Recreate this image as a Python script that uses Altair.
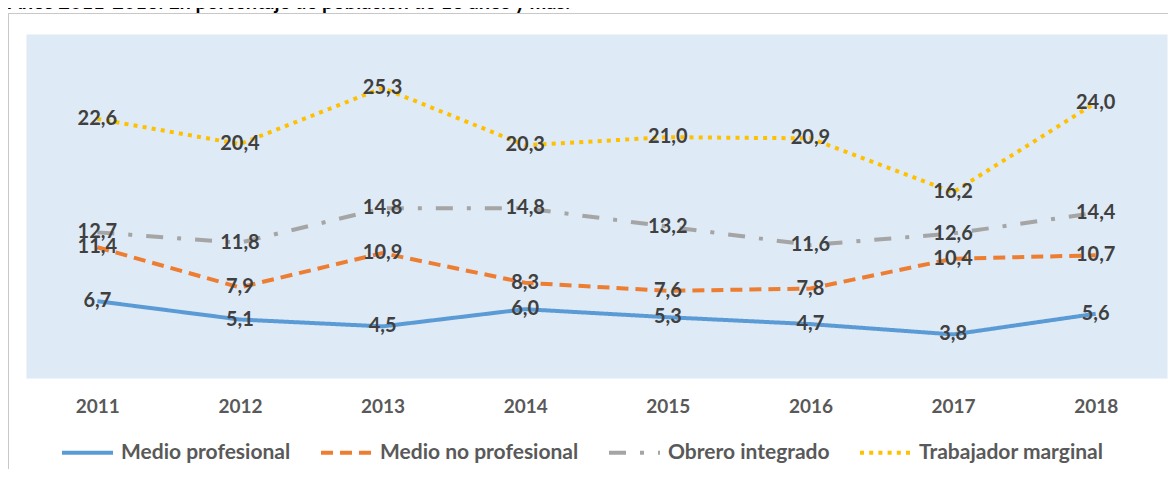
import altair as alt
import pandas as pd

years = ["2011", "2012", "2013", "2014", "2015", "2016", "2017", "2018"]
series_names = ["Medio profesional", "Medio no profesional", "Obrero integrado", "Trabajador marginal"]
medio_profesional = [6.7, 5.1, 4.5, 6.0, 5.3, 4.7, 3.8, 5.6]
medio_no_profesional = [11.4, 7.9, 10.9, 8.3, 7.6, 7.8, 10.4, 10.7]
obrero_integrado = [12.7, 11.8, 14.8, 14.8, 13.2, 11.6, 12.6, 14.4]
trabajador_marginal = [22.6, 20.4, 25.3, 20.3, 21.0, 20.9, 16.2, 24.0]
title_text = "Años 2011-2018. En porcentaje de población de 18 años y más."

colors = ["#5B9BD5", "#ED7D31", "#A5A5A5", "#FFC000"]
dashes = [[1, 0], [12, 7], [17, 14, 4, 14], [4, 5.2]]

rows = []
for k, (name, vals) in enumerate(zip(series_names, [medio_profesional, medio_no_profesional,
                                                     obrero_integrado, trabajador_marginal])):
    for yr, v in zip(years, vals):
        rows.append({"year": yr, "serie": name, "valor": v, "orden": k})
df = pd.DataFrame(rows)

FONT = "Lato"

x_enc = alt.X("year:O", title=None,
              scale=alt.Scale(padding=0.5),
              axis=alt.Axis(labelAngle=0, domain=False, ticks=False, grid=False,
                            labelFont=FONT, labelFontSize=19, labelFontWeight="bold",
                            labelColor="#595959", labelPadding=19))
y_enc = alt.Y("valor:Q", scale=alt.Scale(domain=[0, 30]), axis=None)

leg = alt.Legend(title=None, orient="none", legendX=34, legendY=391, direction="horizontal",
                 columns=4, symbolType="stroke", symbolSize=2600, symbolStrokeWidth=4,
                 labelFont=FONT, labelFontSize=21, labelFontWeight="bold", labelColor="#595959",
                 labelOffset=6, columnPadding=22, padding=0, labelLimit=400)

lines = alt.Chart(df).mark_line(strokeWidth=4).encode(
    x=x_enc, y=y_enc,
    color=alt.Color("serie:N", scale=alt.Scale(domain=series_names, range=colors), legend=leg),
    strokeDash=alt.StrokeDash("serie:N", scale=alt.Scale(domain=series_names, range=dashes), legend=leg),
    order=alt.Order("orden:Q"),
)

labels = alt.Chart(df).transform_calculate(
    etiqueta="replace(format(datum.valor, '.1f'), '.', ',')"
).mark_text(font=FONT, fontSize=20, fontWeight="bold", color="#404040",
            align="center", baseline="middle").encode(
    x=x_enc, y=y_enc, text="etiqueta:N"
)

title = alt.Chart(pd.DataFrame({"t": [title_text]})).mark_text(
    font=FONT, fontSize=20, fontWeight="bold", color="#000000", align="left", baseline="alphabetic"
).encode(x=alt.value(-18), y=alt.value(-25), text="t:N")

border_top = alt.Chart(pd.DataFrame({"a": [0]})).mark_rule(color="#C8C8C8", strokeWidth=1).encode(
    x=alt.value(-18), x2=alt.value(1142), y=alt.value(-20.5))
border_left = alt.Chart(pd.DataFrame({"a": [0]})).mark_rule(color="#C8C8C8", strokeWidth=1).encode(
    x=alt.value(-17.5), y=alt.value(-21), y2=alt.value(440))

chart = alt.layer(border_top, border_left, title, lines, labels).properties(
    width=1141, height=344,
    padding={"left": 18, "top": 26, "right": 1, "bottom": 91},
    autosize=alt.AutoSizeParams(type="none"),
    background="#FFFFFF",
).configure_view(fill="#DEEAF6", stroke="transparent")

chart.save("out.html", embed_options={"renderer": "svg", "actions": False})
